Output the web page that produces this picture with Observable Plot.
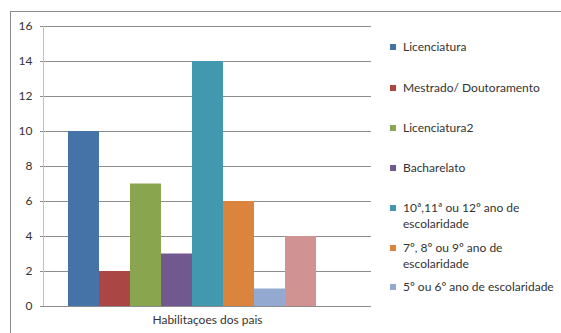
<!DOCTYPE html>
<html><head><meta charset="utf-8">
<script src="https://cdn.jsdelivr.net/npm/d3@7"></script>
<script src="https://cdn.jsdelivr.net/npm/@observablehq/plot@0.6"></script>
<style>
html,body{margin:0;padding:0;background:#fff;}
#wrap{position:relative;width:561px;height:333px;overflow:hidden;background:#fff;font-family:Lato,"Open Sans",sans-serif;}
#border{position:absolute;left:10px;top:11px;width:700px;height:500px;border:1px solid #8a8a8a;box-sizing:border-box;}
#chart{position:absolute;left:0;top:0;}
#legend{position:absolute;left:390px;top:0;font-size:12px;color:#333;}
.item{position:absolute;white-space:nowrap;line-height:16px;}
.sw{position:absolute;left:0;width:6px;height:6px;}
.lab{position:absolute;left:13px;}
</style></head>
<body><div id="wrap"><div id="border"></div><div id="chart"></div><div id="legend"></div></div>
<script>
const category = "Habilitaçoes dos pais";
const series = ["Licenciatura","Mestrado/ Doutoramento","Licenciatura2","Bacharelato","10ª,11ª ou 12º ano de escolaridade","7º, 8º ou 9º ano de escolaridade","5º ou 6º ano de escolaridade","Outro","Sem resposta"];
const values = [10, 2, 7, 3, 14, 6, 1, 4, 0];
const colors = ["#4572A7","#AA4643","#89A54E","#71588F","#4198AF","#DB843D","#93A9CF","#D19392","#B9CD96"];
const legendLabels = ["Licenciatura","Mestrado/ Doutoramento","Licenciatura2","Bacharelato","10ª,11ª ou 12º ano de<br>escolaridade","7º, 8º ou 9º ano de<br>escolaridade","5º ou 6º ano de escolaridade"];
const yTicks = [0,2,4,6,8,10,12,14,16];

const data = series.map((s,i)=>({series:s, value:values[i]}));

const chart = Plot.plot({
  width: 380, height: 333,
  marginLeft: 43, marginRight: 9, marginTop: 26, marginBottom: 27,
  style: {fontFamily: "Lato, 'Open Sans', sans-serif", fontSize: "12px", color: "#333", background: "transparent"},
  x: {domain: series, paddingInner: 0, paddingOuter: 0.79, axis: null},
  y: {domain: [0,16], axis: null},
  color: {domain: series, range: colors},
  marks: [
    Plot.ruleY(yTicks.filter(d=>d>0), {stroke: "#8c8c8c", strokeWidth: 1, insetLeft: -3}),
    Plot.frame({anchor: "left", stroke: "#c0c0c0"}),
    Plot.barY(data, {x: "series", y: "value", fill: "series"}),
    Plot.ruleY([0], {stroke: "#8c8c8c", insetLeft: -3}),
    Plot.axisY({ticks: yTicks, tickSize: 0, tickPadding: 11, fill: "#333", fontSize: 12, label: null}),
    Plot.text([category], {frameAnchor: "bottom", dy: 17, fill: "#333", fontSize: 12})
  ]
});
document.getElementById("chart").appendChild(chart);

const ys = [47, 88, 128, 168, 208, 248, 287];
const leg = document.getElementById("legend");
legendLabels.forEach((l,i)=>{
  const it = document.createElement("div");
  it.className = "item";
  it.style.top = (ys[i]-8) + "px";
  it.innerHTML = `<span class="sw" style="top:5px;background:${colors[i]}"></span><span class="lab">${l}</span>`;
  leg.appendChild(it);
});
</script></body></html>
